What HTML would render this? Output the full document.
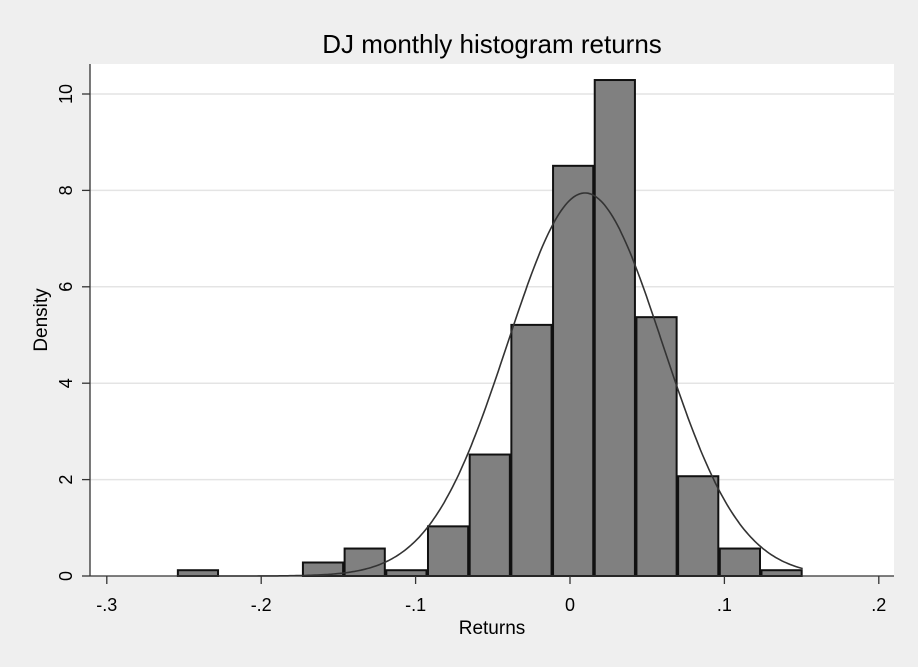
<!DOCTYPE html>
<html><head><meta charset="utf-8"><style>
body{margin:0;background:#efefef;}
svg{display:block;font-family:"Liberation Sans",Arial,sans-serif;}
</style></head><body>
<svg id="chart" width="918" height="667">
<rect x="0" y="0" width="918" height="667" fill="#efefef"/>
<rect x="90" y="64" width="804" height="512" fill="#ffffff"/>
<text x="492" y="53" font-size="26" text-anchor="middle" fill="#000">DJ monthly histogram returns</text>
<text x="492" y="634" font-size="19" text-anchor="middle" fill="#000">Returns</text>
<text transform="translate(47,320) rotate(-90)" font-size="19" text-anchor="middle" fill="#000">Density</text>
<g id="grid"></g><g id="bars"></g><g id="curve"></g><g id="axes"></g>
</svg>
<script>
const binStart = -0.2543;
const binWidth = 0.027;
const densities = [0.12,0,0,0.28,0.57,0.12,1.03,2.52,5.21,8.51,10.29,5.37,2.07,0.57,0.12];
const xTicks = [-0.3,-0.2,-0.1,0,0.1,0.2];
const xTickLabels = ["-.3","-.2","-.1","0",".1",".2"];
const yTicks = [0,2,4,6,8,10];
const normMean = 0.0097;
const normSd = 0.0502;
const NS="http://www.w3.org/2000/svg";
const xs = v => 570 + v*1544;
const ys = v => 576 - v*48.2;
function mk(tag, attrs, parent){const e=document.createElementNS(NS,tag);for(const k in attrs)e.setAttribute(k,attrs[k]);document.getElementById(parent).appendChild(e);return e;}
yTicks.forEach(t=>{
  if(t>0){const g=mk('line',{x1:90,x2:894,y1:ys(t),y2:ys(t),stroke:'#e4e4e4','stroke-width':1.5},'grid');
  
  }
  const tk=mk('line',{x1:82,x2:90,y1:ys(t),y2:ys(t),stroke:'#333','stroke-width':1.3},'axes');
  
  
  const lb=mk('text',{transform:`translate(72,${ys(t)}) rotate(-90)`,'font-size':18,'text-anchor':'middle'},'axes');
  lb.textContent=String(t);
  
  
});
densities.forEach((d,i)=>{
  if(d<=0)return;
  const x0=xs(binStart+i*binWidth), x1=xs(binStart+(i+1)*binWidth);
  const r=mk('rect',{x:x0+0.5,y:ys(d),width:x1-x0-1.5,height:ys(0)-ys(d),fill:'#808080',stroke:'#111','stroke-width':2},'bars');
  
  
});
let pts=[];
const lo=binStart, hi=binStart+densities.length*binWidth;
for(let k=0;k<=300;k++){const v=lo+(hi-lo)*k/300;const y=Math.exp(-0.5*((v-normMean)/normSd)**2)/(normSd*Math.sqrt(2*Math.PI));pts.push(xs(v).toFixed(1)+','+ys(y).toFixed(1));}
const c=mk('polyline',{points:pts.join(' '),fill:'none',stroke:'#333','stroke-width':1.6},'curve');


const ya=mk('line',{x1:90,x2:90,y1:64,y2:576,stroke:'#333','stroke-width':1.3},'axes');


const xa=mk('line',{x1:90,x2:894,y1:576,y2:576,stroke:'#333','stroke-width':1.3},'axes');


xTicks.forEach((t,i)=>{
  const tk=mk('line',{x1:xs(t),x2:xs(t),y1:576,y2:584,stroke:'#333','stroke-width':1.3},'axes');
  
  
  const lb=mk('text',{x:xs(t),y:611,'font-size':18,'text-anchor':'middle'},'axes');
  lb.textContent=xTickLabels[i];
  
  
});
</script>
</body></html>
